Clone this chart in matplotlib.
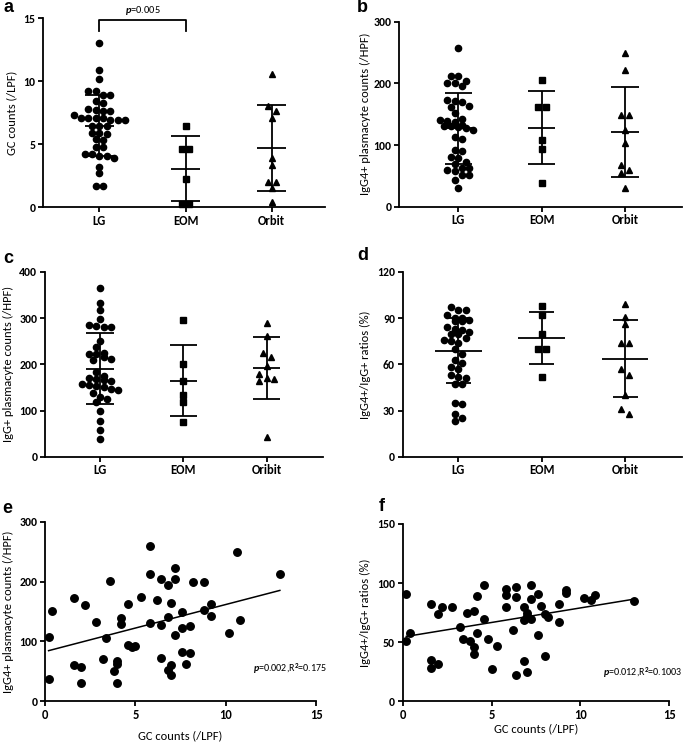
import numpy as np
import matplotlib
matplotlib.use('Agg')
import matplotlib.pyplot as plt

plt.rcParams['font.family'] = ['Carlito', 'DejaVu Sans']
plt.rcParams['font.weight'] = 'bold'
plt.rcParams['mathtext.fontset'] = 'custom'
plt.rcParams['mathtext.rm'] = 'Carlito'
plt.rcParams['mathtext.it'] = 'Carlito:italic'
plt.rcParams['mathtext.bf'] = 'Carlito:bold'

# ---------------- data ----------------
cats_abd = ['LG', 'EOM', 'Orbit']
cats_c = ['LG', 'EOM', 'Oribit']

# a: GC counts (/LPF)
gc_lg = [13.0, 10.9, 10.2, 9.2, 9.2, 8.9, 8.9, 8.4, 8.3, 7.8, 7.7, 7.6, 7.6, 7.3, 7.1,
         7.05, 7.05, 7.05, 6.9, 6.9, 6.9, 6.45, 6.45, 6.4, 5.9, 5.9, 5.8, 5.4, 5.3,
         4.75, 4.75, 4.2, 4.2, 4.05, 4.05, 3.9, 3.2, 2.7, 1.65, 1.65]
gc_eom = [6.4, 4.6, 4.6, 2.2, 0.2, 0.2]
gc_orbit = [10.6, 8.0, 7.6, 7.1, 3.9, 3.3, 2.0, 2.0, 1.5, 0.4]
gc_mean = [6.45, 3.03, 4.7]
gc_sd = [2.42, 2.58, 3.42]

# b: IgG4+ plasmacyte counts (/HPF)
g4_lg = [258, 212, 212, 204, 200, 200, 195, 173, 172, 169, 164, 162, 152, 143, 141,
         139, 137, 132, 131, 131, 130, 127, 124, 113, 110, 92, 90, 81, 79, 72, 70,
         63, 63, 59.5, 58, 51, 51, 43, 30]
g4_eom = [205, 161, 161, 108, 93, 39]
g4_orbit = [250, 221, 149, 148, 124, 104, 67, 59, 55, 30]
g4_mean = [127, 128, 121.6]
g4_sd = [57, 59, 73]

# c: IgG+ plasmacyte counts (/HPF)
g_lg = [366, 332, 318, 298, 285, 283, 281, 280, 250, 237, 225, 223, 222, 216, 212,
        209, 183, 175, 170, 168, 167, 163, 157, 155, 153, 151, 147, 145, 137, 130,
        125, 118, 100, 77, 58, 39]
g_eom = [295, 200, 165, 134, 118, 76]
g_orbit = [289, 262, 225, 215, 197, 180, 170, 169, 163, 42]
g_mean = [190.5, 164.6, 192]
g_sd = [77, 76.5, 67.5]

# d: IgG4+/IgG+ ratios (%)
r_lg = [97, 95, 95, 92, 90, 90, 89, 88, 88, 84, 83, 82, 81, 80, 80, 77, 76, 75, 74,
        70, 67, 63, 61, 58, 57, 53, 52, 51, 47, 47, 35, 34, 28, 25, 23]
r_eom = [98, 92, 80, 70, 70, 52]
r_orbit = [99, 91, 86, 74, 74, 57, 53, 40, 31, 28]
r_mean = [68.9, 77.1, 63.6]
r_sd = [21.3, 17, 25]

# e / f: correlation with GC counts
gc_x = [0.2, 0.2, 0.4, 1.6, 1.6, 2.0, 2.0, 2.2, 2.8, 3.2, 3.4, 3.6, 3.8, 4.0, 4.0,
        4.0, 4.2, 4.2, 4.6, 4.6, 4.8, 5.0, 5.3, 5.8, 5.8, 5.8, 6.2, 6.4, 6.4, 6.4,
        6.8, 6.8, 6.8, 7.0, 7.0, 7.0, 7.2, 7.2, 7.2, 7.6, 7.6, 7.6, 7.8, 8.0, 8.0,
        8.2, 8.8, 8.8, 9.2, 9.2, 10.2, 10.6, 10.8, 13.0]
e_y = [108, 38, 151, 172, 60, 58, 31, 161, 133, 71, 105, 201, 51, 68, 63,
       30, 139, 129, 162, 94, 91, 92, 174, 259, 212, 131, 170, 205, 127, 72,
       194, 141, 52, 165, 60, 44, 223, 205, 110, 149, 123, 82, 62, 126, 80,
       200, 200, 152, 163, 142, 114, 250, 136, 212]
f_x = [0.2, 0.2, 0.4, 1.6, 1.6, 1.6, 2.0, 2.0, 2.2, 2.8, 3.2, 3.4, 3.6, 3.8, 4.0,
       4.0, 4.0, 4.2, 4.2, 4.6, 4.6, 4.8, 5.0, 5.3, 5.8, 5.8, 5.8, 6.2, 6.4, 6.4,
       6.4, 6.8, 6.8, 6.8, 7.0, 7.0, 7.0, 7.2, 7.2, 7.2, 7.6, 7.6, 7.8, 8.0, 8.0,
       8.2, 8.8, 8.8, 9.2, 9.2, 10.2, 10.6, 10.8, 13.0]
f_y = [91, 51, 57.5, 82, 35, 28, 74, 31.6, 80, 79.5, 63, 53, 75, 51, 76.7,
       46, 40, 89, 57.5, 98, 70, 53, 27.3, 47, 95, 90, 80, 60.6, 96.4, 88,
       22.3, 80, 69, 34, 75, 72, 25, 98.4, 86.6, 69.4, 91, 56, 80.6, 73.9, 38.3,
       71.6, 82.6, 66.8, 94, 92, 87, 85.7, 90, 84.6]

# ---------------- figure ----------------
W, H = 685, 743
fig = plt.figure(figsize=(W / 100, H / 100), dpi=100)

LW = 1.3
XTICK_FS = 9
YTICK_FS = 8.5
LAB_FS = 9


def add_ax(x0, x1, y0, y1):
    return fig.add_axes([x0 / W, 1 - y1 / H, (x1 - x0) / W, (y1 - y0) / H])


def style(ax):
    for s in ['top', 'right']:
        ax.spines[s].set_visible(False)
    for s in ['left', 'bottom']:
        ax.spines[s].set_linewidth(LW)
    ax.tick_params(width=LW, length=3.5, pad=2)
    ax.tick_params(axis='x', labelsize=XTICK_FS)
    ax.tick_params(axis='y', labelsize=YTICK_FS)


def swarm_x(ax, xc, vals, d, rowh):
    """Row-based scatter-dot layout: points with similar values share a row
    and are spread symmetrically around the category centre."""
    vals = np.asarray(vals, float)
    ys = ax.transData.transform(np.column_stack([np.full(len(vals), float(xc)), vals]))[:, 1]
    order = np.argsort(-ys, kind='stable')
    rows = []
    for i in order:
        if rows and ys[rows[-1][0]] - ys[i] < rowh:
            rows[-1].append(i)
        else:
            rows.append([i])
    placed = []
    offs = np.zeros(len(vals))
    for idx in rows:
        n = len(idx)
        base = [(j - (n - 1) / 2) * d for j in range(n)]
        best = 0.0
        for sh in [0.0, d / 2, -d / 2, d, -d]:
            ok = all((b + sh - px) ** 2 + (ys[i] - py) ** 2 >= (0.85 * d) ** 2
                     for b, i in zip(base, idx) for px, py in placed)
            if ok:
                best = sh
                break
        for b, i in zip(base, idx):
            offs[i] = b + best
            placed.append((b + best, ys[i]))
    x0 = ax.transData.transform((xc, 0))[0]
    inv = ax.transData.inverted()
    return [inv.transform((x0 + o, 0))[0] for o in offs]


def group_panel(ax, groups, means, sds, cats, xlim, ylim, yticks, ylabel,
                wmean=0.165, wcap=0.165):
    style(ax)
    ax.set_xlim(*xlim)
    ax.set_ylim(*ylim)
    ax.set_xticks(range(len(cats)))
    ax.set_xticklabels(cats)
    ax.set_yticks(yticks)
    ax.set_ylabel(ylabel, fontsize=LAB_FS)
    markers = [('o', 4.5, 7.3), ('s', 3.7, 7.8), ('^', 4.2, 7.8)]
    for i, vals in enumerate(groups):
        m, ms, dpx = markers[i]
        xs = swarm_x(ax, i, vals, dpx, 0.8 * dpx)
        ax.plot(xs, vals, linestyle='none', marker=m, ms=ms, color='black',
                mec='black', clip_on=False, zorder=3)
        mu, sd = means[i], sds[i]
        ax.vlines(i, mu - sd, mu + sd, color='black', lw=LW, zorder=4)
        ax.hlines(mu, i - wmean, i + wmean, color='black', lw=LW, zorder=4)
        ax.hlines([mu - sd, mu + sd], i - wcap, i + wcap, color='black', lw=LW, zorder=4)


# panel a
ax_a = add_ax(43, 325, 18.3, 207)
group_panel(ax_a, [gc_lg, gc_eom, gc_orbit], gc_mean, gc_sd, cats_abd,
            (-0.653, 2.618), (0, 15), [0, 5, 10, 15], 'GC counts (/LPF)')
ax_a.plot([0, 0, 1, 1], [14.0, 14.86, 14.86, 14.0], color='black', lw=LW,
          clip_on=False)
ax_a.text(0.5, 15.62, r'$p$=0.005', ha='center', va='center', fontsize=7.5,
          fontweight='normal')
ax_a.yaxis.set_label_coords(-0.092, 0.5)

# panel b
ax_b = add_ax(399.3, 681.7, 21.7, 206.7)
group_panel(ax_b, [g4_lg, g4_eom, g4_orbit], g4_mean, g4_sd, cats_abd,
            (-0.708, 2.68), (0, 300), [0, 100, 200, 300],
            'IgG4+ plasmacyte counts (/HPF)')
ax_b.yaxis.set_label_coords(-0.100, 0.5)

# panel c
ax_c = add_ax(45, 323.3, 272, 456.7)
group_panel(ax_c, [g_lg, g_eom, g_orbit], g_mean, g_sd, cats_c,
            (-0.66, 2.68), (0, 400), [0, 100, 200, 300, 400],
            'IgG+ plasmacyte counts (/HPF)')
ax_c.yaxis.set_label_coords(-0.111, 0.5)

# panel d
ax_d = add_ax(402.7, 681.7, 272, 456.7)
group_panel(ax_d, [r_lg, r_eom, r_orbit], r_mean, r_sd, cats_abd,
            (-0.667, 2.68), (0, 120), [0, 30, 60, 90, 120],
            'IgG4+/IgG+ ratios (%)', wmean=0.28, wcap=0.15)
ax_d.yaxis.set_label_coords(-0.115, 0.5)


def corr_panel(ax, x, y, ylim, yticks, ylabel, txt, txt_xy, xlab_y, ylab_x):
    style(ax)
    ax.set_xlim(0, 15)
    ax.set_ylim(*ylim)
    ax.set_xticks([0, 5, 10, 15])
    ax.set_yticks(yticks)
    ax.plot(x, y, linestyle='none', marker='o', ms=5.4, color='black',
            clip_on=False, zorder=3)
    k, b = np.polyfit(x, y, 1)
    xl = np.array([min(x), max(x)])
    ax.plot(xl, k * xl + b, color='black', lw=1.1, zorder=4)
    ax.set_xlabel('GC counts (/LPF)', fontsize=LAB_FS)
    ax.set_ylabel(ylabel, fontsize=LAB_FS)
    ax.xaxis.set_label_coords(0.5, xlab_y)
    ax.yaxis.set_label_coords(ylab_x, 0.5)
    ax.text(txt_xy[0], txt_xy[1], txt, ha='left', va='center', fontsize=7.2,
            fontweight='normal')


ax_e = add_ax(45, 316, 521.7, 701.3)
corr_panel(ax_e, gc_x, e_y, (0, 300), [0, 100, 200, 300],
           'IgG4+ plasmacyte counts (/HPF)', r'$p$=0.002,R$^2$=0.175',
           (11.5, 54), -0.16, -0.114)

ax_f = add_ax(402.7, 669.3, 524, 701.3)
corr_panel(ax_f, f_x, f_y, (0, 150), [0, 50, 100, 150],
           'IgG4+/IgG+ ratios (%)', r'$p$=0.012,R$^2$=0.1003',
           (11.27, 24.2), -0.122, -0.12)

# panel letters
for lab, x, y in [('a', 3, 8), ('b', 357, 7), ('c', 3, 258), ('d', 357, 256),
                  ('e', 2, 508.5), ('f', 379, 506.5)]:
    fig.text(x / W, 1 - y / H, lab, fontsize=13, fontweight='bold',
             family=['Liberation Sans', 'DejaVu Sans'], ha='left', va='center')

fig.savefig('out.png', dpi=100)
